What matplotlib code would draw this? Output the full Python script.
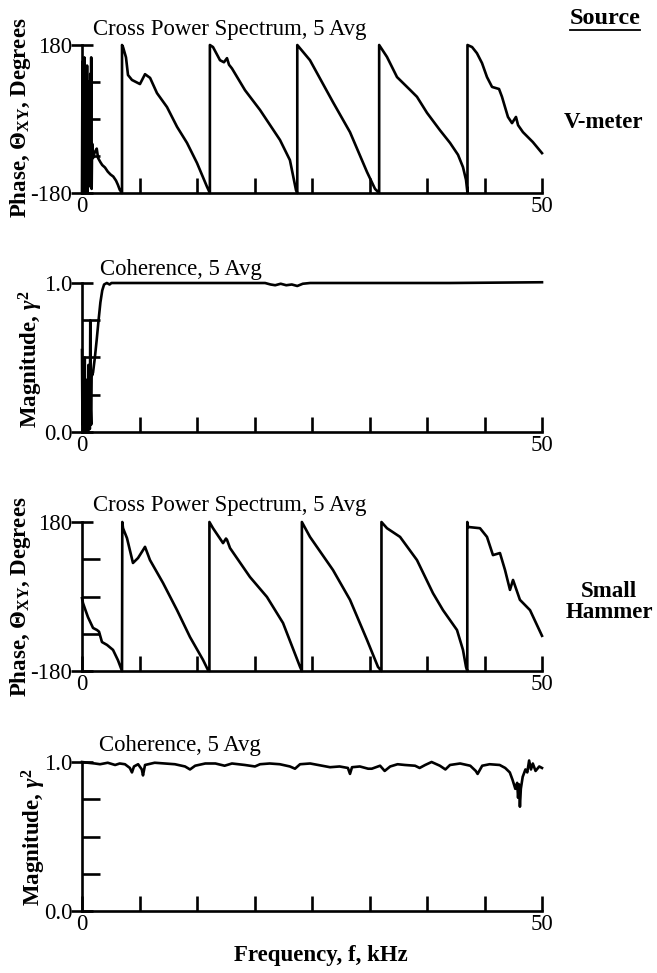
import matplotlib
matplotlib.use("Agg")
import matplotlib.pyplot as plt
from matplotlib.ticker import FixedLocator

plt.rcParams['font.family'] = ['Liberation Serif', 'DejaVu Serif']
plt.rcParams['mathtext.fontset'] = 'custom'
plt.rcParams['mathtext.rm'] = 'Liberation Serif:bold'
plt.rcParams['mathtext.it'] = 'Liberation Serif:italic:bold'
plt.rcParams['mathtext.bf'] = 'Liberation Serif:bold'

# ---------------- data ----------------
# Panel 1: V-meter, cross power spectrum phase (degrees)
vm_phase_f = [0.0, 0.05, 0.1, 0.15, 0.2, 0.25, 0.3, 0.35, 0.4, 0.45, 0.5, 0.55, 0.6, 0.65,
              0.7, 0.75, 0.8, 0.85, 0.9, 0.95, 1.0, 1.05, 1.1,
              1.2, 1.4, 1.6, 1.75, 2.0, 2.2, 2.5, 2.8, 3.1, 3.4, 3.7, 3.9, 4.1, 4.35,
              4.35, 4.46, 4.78, 5.0, 5.43, 6.3, 6.85, 7.4, 8.15, 9.24, 10.33, 11.41, 12.5, 13.59, 13.9,
              13.9, 14.24, 15.0, 15.43, 15.76, 15.98, 16.3, 17.72, 19.35, 21.52, 22.6, 23.26, 23.4,
              23.4, 24.78, 27.28, 29.13, 30.98, 31.85, 32.3,
              32.3, 33.15, 34.24, 35.65, 36.41, 37.5, 38.9, 40.0, 40.87, 41.41, 41.74, 41.9,
              41.9, 42.4, 42.93, 43.48, 44.02, 44.57, 45.33, 45.65, 45.98, 46.3, 46.74, 47.17,
              47.4, 47.93, 49.0, 50.0]
vm_phase = [-180, 140, -175, 100, -160, 150, -170, 60, -180, 120, -150, 130, -178, 40,
            -165, 90, -120, -40, 110, -100, 150, -170, -60,
            -95, -80, -72, -95, -105, -112, -118, -128, -135, -140, -150, -160, -172, -180,
            180, 175, 150, 107, 95, 85, 109, 100, 63, 29, -19, -58, -107, -165, -180,
            180, 175, 143, 138, 148, 132, 123, 70, 22, -51, -100, -173, -180,
            180, 143, 41, -32, -129, -170, -180,
            180, 151, 102, 71, 54, 15, -27, -58, -87, -117, -148, -180,
            180, 175, 160, 136, 102, 78, 73, 54, 29, 5, -10, 5,
            -15, -32, -56, -83]

# Panel 2: V-meter, coherence
vm_coh_f = [0.0, 0.05, 0.1, 0.15, 0.2, 0.25, 0.3, 0.35, 0.4, 0.45, 0.5, 0.55, 0.6, 0.65,
            0.7, 0.75, 0.8, 0.85, 0.9, 0.95, 1.0, 1.05, 1.1,
            1.2, 1.4, 1.6, 1.8, 2.0, 2.2, 2.4, 2.7, 3.0, 3.2, 10.0, 19.9, 20.5, 21.0,
            21.6, 22.2, 22.8, 23.4, 24.0, 24.8, 30.0, 40.0, 50.0]
vm_coh = [0.55, 0.05, 0.4, 0.0, 0.3, 0.1, 0.5, 0.02, 0.25, 0.0, 0.35, 0.05, 0.2, 0.0,
          0.45, 0.1, 0.3, 0.02, 0.75, 0.15, 0.05, 0.4, 0.38,
          0.4, 0.5, 0.62, 0.75, 0.87, 0.95, 0.99, 1.0, 0.99, 1.0, 1.0, 1.0, 0.99, 0.985,
          0.995, 0.985, 0.99, 0.98, 0.995, 1.0, 1.0, 1.0, 1.005]

# Panel 3: Small hammer, cross power spectrum phase (degrees)
sh_phase_f = [0.0, 0.11, 0.33, 0.65, 1.2, 1.63, 1.85, 2.17, 2.72, 3.37, 3.91, 4.35,
              4.38, 4.46, 4.89, 5.54, 6.09, 6.63, 6.85, 7.39, 8.8, 10.33, 11.74, 13.15, 13.7, 13.85,
              13.85, 14.24, 15.33, 15.65, 15.76, 16.09, 18.26, 20.1, 21.85, 23.7, 23.9,
              23.9, 24.78, 27.28, 29.13, 30.98, 32.17, 32.55,
              32.55, 33.15, 34.57, 36.41, 38.15, 39.24, 40.76, 41.41, 41.74, 41.88,
              41.88, 41.96, 43.26, 44.02, 44.67, 45.43, 45.98, 46.52, 46.85, 47.6, 48.7, 50.0]
sh_phase = [-4, -16, -30, -50, -76, -81, -85, -110, -117, -129, -154, -180,
            180, 165, 141, 81, 93, 112, 120, 88, 33, -33, -98, -153, -178, -180,
            180, 165, 129, 140, 137, 117, 47, -1, -64, -170, -180,
            180, 144, 64, -8, -105, -170, -180,
            180, 165, 144, 88, 8, -33, -81, -129, -170, -180,
            180, 168, 165, 144, 100, 105, 64, 16, 40, -8, -33, -95]

# Panel 4: Small hammer, coherence
sh_coh_f = [0.0, 0.65, 1.4, 1.96, 2.8, 3.6, 4.1, 4.67, 5.2, 5.43, 5.65, 6.1, 6.5, 6.63, 6.85,
            7.9, 9.0, 10.1, 11.2, 11.74, 12.3, 13.4, 14.5, 15.5, 16.3, 17.7, 18.8, 19.35,
            20.4, 21.5, 22.6, 23.15, 23.7, 24.8, 26.1, 26.96, 28.0, 28.9, 29.13, 29.35,
            30.2, 31.1, 31.5, 32.4, 32.9, 33.5, 34.3, 35.1, 36.2, 36.7, 37.3, 38.0, 38.9,
            39.5, 40.0, 41.1, 42.2, 42.8, 43.0, 43.5, 44.3, 45.4, 46.0, 46.5, 46.8, 47.1,
            47.3, 47.4, 47.5, 47.6, 47.7, 47.9, 48.2, 48.4, 48.6, 48.8, 49.0, 49.3, 49.7, 50.0]
sh_coh = [1.0, 0.995, 0.99, 0.985, 0.995, 0.98, 0.99, 0.985, 0.96, 0.93, 0.97, 0.985, 0.95,
          0.91, 0.98, 0.995, 0.99, 0.985, 0.97, 0.95, 0.975, 0.99, 0.99, 0.975, 0.99, 0.98,
          0.97, 0.985, 0.99, 0.985, 0.97, 0.955, 0.985, 0.99, 0.975, 0.965, 0.97, 0.96, 0.92,
          0.965, 0.97, 0.955, 0.955, 0.975, 0.94, 0.97, 0.985, 0.98, 0.975, 0.96, 0.98, 1.0,
          0.975, 0.95, 0.98, 0.99, 0.975, 0.94, 0.92, 0.975, 0.985, 0.98, 0.96, 0.93, 0.88,
          0.82, 0.86, 0.76, 0.85, 0.70, 0.82, 0.9, 0.95, 0.93, 1.01, 0.95, 0.99, 0.94, 0.97, 0.96]

panel_titles = ["Cross Power Spectrum, 5 Avg", "Coherence, 5 Avg",
                "Cross Power Spectrum, 5 Avg", "Coherence, 5 Avg"]
phase_label = r"Phase, $\Theta_{\mathrm{XY}}$, Degrees"
coh_label = r"Magnitude, $\gamma^2$"
x_tick_labels = ["0", "50"]
phase_tick_labels = ["-180", "180"]
coh_tick_labels = ["0.0", "1.0"]
source_labels = ["V-meter", "Small\nHammer"]

# ---------------- layout ----------------
W, H = 657, 973
fig = plt.figure(figsize=(W / 100, H / 100), dpi=100)
fig.patch.set_facecolor("white")

left_px, right_px = 82, 542
panels_px = [(45, 193), (283, 432), (522, 671), (762, 911)]

def px_rect(top, bottom):
    return [left_px / W, 1 - bottom / H, (right_px - left_px) / W, (bottom - top) / H]

FS_T = 16.4     # titles
FS_TICK = 16.5  # tick labels
FS_B = 16.5     # bold labels
LW = 1.9

def style_axis(ax, kind):
    for s in ("top", "right"):
        ax.spines[s].set_visible(False)
    for s in ("left", "bottom"):
        ax.spines[s].set_linewidth(1.9)
    ax.set_xlim(0, 50)
    ax.xaxis.set_major_locator(FixedLocator([0, 50]))
    ax.set_xticklabels(x_tick_labels)
    ax.xaxis.set_minor_locator(FixedLocator([6.25 * i for i in range(1, 8)]))
    if kind == "phase":
        ax.set_ylim(-180, 180)
        ax.yaxis.set_major_locator(FixedLocator([-180, 180]))
        ax.set_yticklabels(phase_tick_labels)
        ax.yaxis.set_minor_locator(FixedLocator([-90, 0, 90]))
    else:
        ax.set_ylim(0, 1)
        ax.yaxis.set_major_locator(FixedLocator([0, 1]))
        ax.set_yticklabels(coh_tick_labels)
        ax.yaxis.set_minor_locator(FixedLocator([0.25, 0.5, 0.75]))
    ax.tick_params(axis="x", which="major", direction="in", length=11, width=1.9,
                   labelsize=FS_TICK, pad=2)
    ax.tick_params(axis="x", which="minor", direction="in", length=11, width=1.9)
    ax.tick_params(axis="y", which="major", direction="inout", length=16, width=1.9,
                   labelsize=FS_TICK, pad=-1)
    ax.tick_params(axis="y", which="minor", direction="in", length=13, width=1.9)

series = [(vm_phase_f, vm_phase, "phase"), (vm_coh_f, vm_coh, "coh"),
          (sh_phase_f, sh_phase, "phase"), (sh_coh_f, sh_coh, "coh")]

for (top, bottom), (fx, fy, kind) in zip(panels_px, series):
    ax = fig.add_axes(px_rect(top, bottom))
    ax.plot(fx, fy, color="black", lw=LW, clip_on=False, solid_joinstyle="round")
    style_axis(ax, kind)

# panel titles
title_pos = [(93, 30), (100, 269), (93, 505), (99, 746)]
for (x, y), t in zip(title_pos, panel_titles):
    fig.text(x / W, 1 - y / H, t, fontsize=FS_T, ha="left", va="center")

# y labels
ylab_pos = [(21, 118, phase_label), (31, 359, coh_label),
            (21, 597, phase_label), (34, 837, coh_label)]
for x, y, t in ylab_pos:
    fig.text(x / W, 1 - y / H, t, fontsize=FS_B, fontweight="bold", rotation=90,
             ha="center", va="center")

# source labels
src = fig.text(605 / W, 1 - 18 / H, "Source", fontsize=17.5, fontweight="bold",
               ha="center", va="center")
fig.text(603 / W, 1 - 123 / H, source_labels[0], fontsize=FS_B, fontweight="bold",
         ha="center", va="center")
fig.text(609 / W, 1 - 602 / H, source_labels[1], fontsize=FS_B, fontweight="bold",
         ha="center", va="center", linespacing=1.0)

# underline for "Source"
fig.canvas.draw()
bb = src.get_window_extent()
fig.add_artist(plt.Line2D([bb.x0 / W, bb.x1 / W], [(bb.y0 - 1) / H, (bb.y0 - 1) / H],
                          transform=fig.transFigure, color="black", lw=1.3))

fig.text(321 / W, 1 - 955 / H, "Frequency, f, kHz", fontsize=FS_B, fontweight="bold",
         ha="center", va="center")

fig.savefig("out.png", dpi=100, facecolor="white")
